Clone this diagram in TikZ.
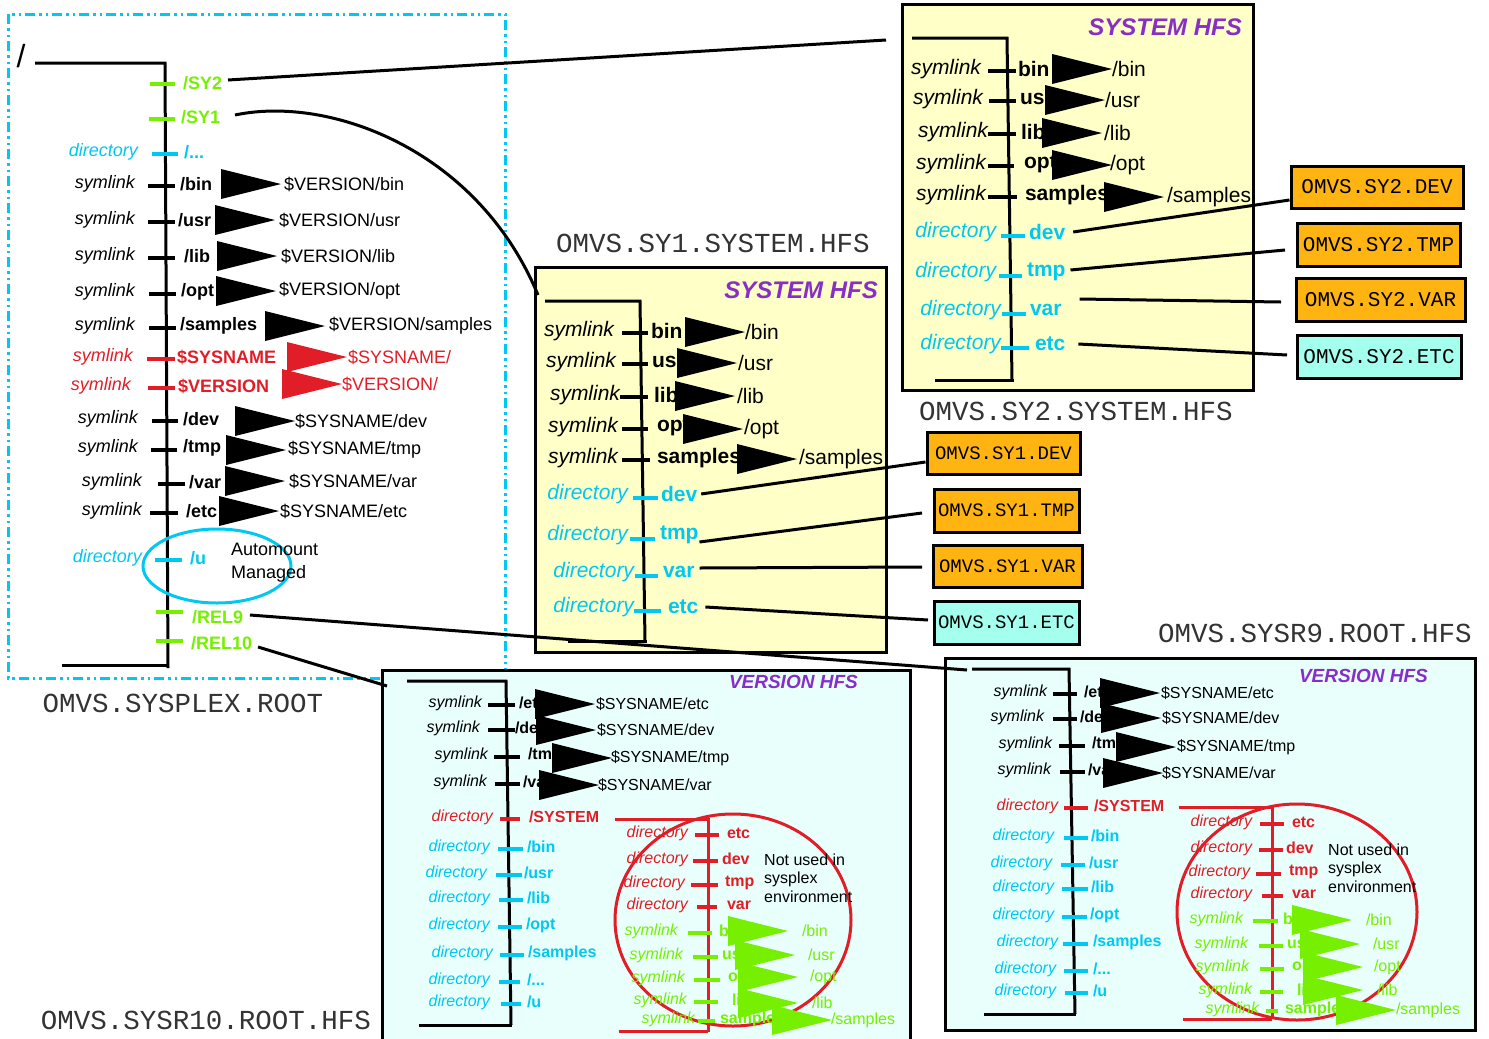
\documentclass[tikz,border=0pt]{standalone}
\usepackage{fontspec}
\setmainfont{Liberation Sans}
\newfontfamily\monof{Liberation Mono}
\definecolor{cyanc}{RGB}{0,200,240}
\definecolor{greenc}{RGB}{118,240,0}
\definecolor{redc}{RGB}{225,30,40}
\definecolor{purplec}{RGB}{135,45,200}
\definecolor{yellowf}{RGB}{255,255,200}
\definecolor{aquaf}{RGB}{232,255,252}
\definecolor{orangef}{RGB}{255,180,18}
\definecolor{tealf}{RGB}{165,255,238}
\newcommand\fsz{\fontsize{18}{20}\selectfont}
\newcount\myrowc
\newcommand\mkrow[8]{%
  \global\advance\myrowc by 1
  \node[kindlbl,#1,anchor=east] (k\the\myrowc) at (#3,#6-2) {#2};
  \draw[tick,#1] (#4,#6) -- (#5,#6);
  \node[namelbl,#1,anchor=west] (n\the\myrowc) at (#7,#6-2) {#8};
}
\newcommand\mklnk[5]{%
  \global\advance\myrowc by 1
  \fill[#1] (#2,#3-15) -- (#2+60,#3) -- (#2,#3+15) -- cycle;
  \node[tgtlbl,#1,anchor=west] (t\the\myrowc) at (#4,#3) {#5};
}
\newcommand\mkdirrow[7]{%
  \node[kindlbl,cCy,anchor=east] (k#1) at (#2,#3-4) {directory};
  \draw[tick,cCy] (#4,#3) -- (#5,#3);
  \node[namelbl,cCy,anchor=west] (#1) at (#6,#3-4) {#7};
}
\begin{document}
\begin{tikzpicture}[x=1pt,y=-1pt,
  cBk/.style={color=black}, cCy/.style={color=cyanc},
  cRd/.style={color=redc}, cGr/.style={color=greenc},
  kindlbl/.style={inner sep=0pt,outer sep=0pt,font=\itshape\fsz},
  namelbl/.style={inner sep=0pt,outer sep=0pt,font=\bfseries\fsz},
  tgtlbl/.style={inner sep=0pt,outer sep=0pt,font=\fsz},
  tick/.style={line width=3.2pt},
  tree/.style={line width=3pt},
  conn/.style={line width=3pt,black},
  mono/.style={inner sep=0pt,font=\monof\fontsize{27.5}{30}\selectfont,text=black!80},
  dsbox/.style={draw=black,line width=3pt,inner sep=0pt,font=\monof\fontsize{19}{21}\selectfont},
  dsbox2/.style={dsbox,font=\monof\fontsize{21}{23}\selectfont},
  hfs/.style={inner sep=0pt,anchor=east,text=purplec,font=\bfseries\itshape\fontsize{24}{26}\selectfont},
  vhfs/.style={hfs,font=\bfseries\itshape\fontsize{19}{21}\selectfont},
  bigbox/.style={draw=black,line width=3pt}
]
\useasboundingbox (0,0) rectangle (1489,1039);
\fill[white] (0,0) rectangle (1489,1039);

% ---------- frames ----------
\draw[cyanc,line width=3pt,dash pattern=on 10pt off 4pt on 2.5pt off 4pt on 2.5pt off 4pt] (8,14) rectangle (505,678);
\draw[bigbox,fill=yellowf] (902,4) rectangle (1253,390);
\draw[bigbox,fill=yellowf] (535,267) rectangle (886,652);
\draw[bigbox,fill=aquaf] (382,670) rectangle (910,1050);
\draw[bigbox,fill=aquaf] (945,658) rectangle (1475,1030);

% ---------- titles ----------
\node[mono] (tSysplex) at (183,703) {OMVS.SYSPLEX.ROOT};
\node[mono] (tSy1) at (713,243) {OMVS.SY1.SYSTEM.HFS};
\node[mono] (tSy2) at (1076,411) {OMVS.SY2.SYSTEM.HFS};
\node[mono] (tR9) at (1315,633) {OMVS.SYSR9.ROOT.HFS};
\node[mono] (tR10) at (206,1020) {OMVS.SYSR10.ROOT.HFS};
\node[hfs] (h2) at (1242,27) {SYSTEM HFS};
\node[hfs] (h1) at (878,290) {SYSTEM HFS};
\node[vhfs] (h10) at (858,682) {VERSION HFS};
\node[vhfs] (h9) at (1428,676) {VERSION HFS};

% ---------- data set boxes ----------
\node[dsbox,fill=orangef,minimum width=153,minimum height=42] (b1dev) at (1003.5,453) {OMVS.SY1.DEV};
\node[dsbox,fill=orangef,minimum width=145,minimum height=43] (b1tmp) at (1006.5,510.5) {OMVS.SY1.TMP};
\node[dsbox,fill=orangef,minimum width=149,minimum height=42] (b1var) at (1007.5,566) {OMVS.SY1.VAR};
\node[dsbox,fill=tealf,minimum width=145,minimum height=43] (b1etc) at (1006.5,622.5) {OMVS.SY1.ETC};
\node[dsbox2,fill=orangef,minimum width=172,minimum height=42] (b2dev) at (1377,187) {OMVS.SY2.DEV};
\node[dsbox2,fill=orangef,minimum width=163,minimum height=43] (b2tmp) at (1378.5,244.5) {OMVS.SY2.TMP};
\node[dsbox2,fill=orangef,minimum width=169,minimum height=43] (b2var) at (1380.5,299.5) {OMVS.SY2.VAR};
\node[dsbox2,fill=tealf,minimum width=164,minimum height=43] (b2etc) at (1379,356.5) {OMVS.SY2.ETC};

% ---------- sysplex root tree ----------
\renewcommand\fsz{\fontsize{18}{20}\selectfont}
\node[inner sep=0pt,font=\fontsize{32}{34}\selectfont] (root) at (21,56) {/};
\draw[tree] (35,63) -- (165,63) -- (168,668);
\draw[tree] (62,665) -- (168,665);
\draw[tick,cGr] (150,84) -- (175,84);
\node[namelbl,cGr,anchor=west] (nSY2) at (183,83) {/SY2};
\draw[tick,cGr] (149,119) -- (175,119);
\node[namelbl,cGr,anchor=west] (nSY1) at (181,117) {/SY1};
\mkrow{cCy}{directory}{138}{152}{178}{154}{184}{/...}
\mkrow{cBk}{symlink}{135}{148}{175}{186}{180}{/bin}
\mkrow{cBk}{symlink}{135}{148}{175}{222}{178}{/usr}
\mkrow{cBk}{symlink}{135}{148}{175}{258}{184}{/lib}
\mkrow{cBk}{symlink}{135}{149}{176}{294}{181}{/opt}
\mkrow{cBk}{symlink}{135}{149}{176}{328}{180}{/samples}
\mkrow{cRd}{symlink}{133}{147}{175}{359}{177}{\$SYSNAME}
\mkrow{cRd}{symlink}{131}{148}{175}{388}{178}{\$VERSION}
\mkrow{cBk}{symlink}{138}{152}{178}{421}{183}{/dev}
\mkrow{cBk}{symlink}{138}{151}{177}{450}{183}{/tmp}
\mkrow{cBk}{symlink}{142}{158}{185}{484}{189}{/var}
\mkrow{cBk}{symlink}{142}{150}{178}{513}{186}{/etc}
\mkrow{cCy}{directory}{142}{155}{182}{560}{190}{/u}
\mklnk{cBk}{221}{184}{284}{\$VERSION/bin}
\mklnk{cBk}{215}{220}{279}{\$VERSION/usr}
\mklnk{cBk}{217}{256}{281}{\$VERSION/lib}
\mklnk{cBk}{216}{291}{279}{\$VERSION/opt}
\mklnk{cBk}{265}{326}{329}{\$VERSION/samples}
\mklnk{cRd}{287}{357}{348}{\$SYSNAME/}
\mklnk{cRd}{282}{384}{342}{\$VERSION/}
\mklnk{cBk}{235}{421}{295}{\$SYSNAME/dev}
\mklnk{cBk}{226}{450}{288}{\$SYSNAME/tmp}
\mklnk{cBk}{225}{481}{289}{\$SYSNAME/var}
\mklnk{cBk}{219}{511}{280}{\$SYSNAME/etc}
\draw[cyanc,line width=3pt] (217,566) ellipse [x radius=74pt,y radius=37pt];
\node[inner sep=0pt,anchor=west,align=left,font=\fontsize{18}{23}\selectfont] (auto) at (231,562.5) {Automount\\Managed};
\draw[tick,cGr] (156,612) -- (183,612);
\node[namelbl,cGr,anchor=west] (nREL9) at (192,617) {/REL9};
\draw[tick,cGr] (156,641) -- (183,641);
\node[namelbl,cGr,anchor=west] (nREL10) at (191,643) {/REL10};

% ---------- SY1 system HFS ----------
\renewcommand\fsz{\fontsize{21}{23}\selectfont}
\draw[tree] (545,301) -- (640,301) -- (645,642);
\draw[tree] (568,641) -- (647,641);
\mkrow{cBk}{symlink}{614}{622}{648}{333}{651}{bin}
\mkrow{cBk}{symlink}{616}{622}{648}{364}{652}{usr}
\mkrow{cBk}{symlink}{620}{620}{648}{397}{654}{lib}
\mkrow{cBk}{symlink}{618}{622}{648}{429}{657}{opt}
\mkrow{cBk}{symlink}{618}{622}{650}{460}{657}{samples}
\mklnk{cBk}{685}{332}{745}{/bin}
\mklnk{cBk}{677}{363}{738}{/usr}
\mklnk{cBk}{675}{396}{737}{/lib}
\mklnk{cBk}{683}{429}{744}{/opt}
\mklnk{cBk}{737}{459}{799}{/samples}
\mkdirrow{d1dev}{628}{498}{633}{658}{661}{dev}
\mkdirrow{d1tmp}{628}{539}{630}{655}{660}{tmp}
\mkdirrow{d1var}{634}{576}{635}{658}{663}{var}
\mkdirrow{d1etc}{634}{611}{634}{661}{668}{etc}

% ---------- SY2 system HFS ----------
\draw[tree] (912,38) -- (1007,38) -- (1012,380);
\draw[tree] (935,380) -- (1014,380);
\mkrow{cBk}{symlink}{981}{988}{1016}{71}{1018}{bin}
\mkrow{cBk}{symlink}{983}{989}{1016}{101}{1020}{usr}
\mkrow{cBk}{symlink}{988}{988}{1016}{134}{1021}{lib}
\mkrow{cBk}{symlink}{986}{988}{1014}{166}{1024}{opt}
\mkrow{cBk}{symlink}{986}{988}{1017}{197}{1025}{samples}
\mklnk{cBk}{1052}{69}{1112}{/bin}
\mklnk{cBk}{1045}{100}{1105}{/usr}
\mklnk{cBk}{1042}{133}{1104}{/lib}
\mklnk{cBk}{1052}{165}{1110}{/opt}
\mklnk{cBk}{1104}{197}{1167}{/samples}
\mkdirrow{d2dev}{996}{236}{1001}{1025}{1029}{dev}
\mkdirrow{d2tmp}{996}{276}{999}{1022}{1027}{tmp}
\mkdirrow{d2var}{1001}{314}{1002}{1026}{1030}{var}
\mkdirrow{d2etc}{1001}{348}{1001}{1029}{1035}{etc}

% ---------- SYSR10 version HFS ----------
\renewcommand\fsz{\fontsize{16}{18}\selectfont}
\draw[redc,line width=3pt] (733,920) ellipse [x radius=118pt,y radius=106pt];
\draw[tree] (407,681) -- (506,681) -- (511,1025);
\draw[tree] (419,1025) -- (512,1025);
\mkrow{cBk}{symlink}{482}{488}{515}{705}{519}{/etc}
\mkrow{cBk}{symlink}{480}{488}{515}{730}{515}{/dev}
\mkrow{cBk}{symlink}{488}{494}{520}{757}{528}{/tmp}
\mkrow{cBk}{symlink}{487}{495}{520}{784}{523}{/var}
\mklnk{cBk}{535}{704}{596}{\$SYSNAME/etc}
\mklnk{cBk}{536}{730}{597}{\$SYSNAME/dev}
\mklnk{cBk}{552}{758}{611}{\$SYSNAME/tmp}
\mklnk{cBk}{539}{785}{598}{\$SYSNAME/var}
\mkrow{cRd}{directory}{493}{500}{520}{819}{529}{/SYSTEM}
\mkrow{cCy}{directory}{490}{498}{523}{849}{527}{/bin}
\mkrow{cCy}{directory}{487}{496}{522}{875}{524}{/usr}
\mkrow{cCy}{directory}{490}{499}{523}{900}{527}{/lib}
\mkrow{cCy}{directory}{490}{498}{522}{927}{526}{/opt}
\mkrow{cCy}{directory}{493}{500}{524}{955}{528}{/samples}
\mkrow{cCy}{directory}{490}{499}{520}{982}{527}{/...}
\mkrow{cCy}{directory}{490}{501}{521}{1004}{527}{/u}
\draw[tree,redc] (615,819) -- (708,819) -- (708,1032);
\draw[tree,redc] (619,1031) -- (708,1031);
\mkrow{cRd}{directory}{688}{695}{719}{835}{727}{etc}
\mkrow{cRd}{directory}{688}{693}{718}{861}{722}{dev}
\mkrow{cRd}{directory}{685}{691}{718}{885}{725}{tmp}
\mkrow{cRd}{directory}{688}{697}{717}{907}{727}{var}
\mkrow{cGr}{symlink}{678}{688}{712}{933}{719}{bin}
\mkrow{cGr}{symlink}{683}{693}{718}{957}{722}{usr}
\mkrow{cGr}{symlink}{685}{694}{720}{980}{728}{opt}
\mkrow{cGr}{symlink}{687}{694}{718}{1002}{732}{lib}
\mkrow{cGr}{symlink}{695}{698}{715}{1021}{720}{samples}
\mklnk{cGr}{728}{931}{802}{/bin}
\mklnk{cGr}{735}{955}{808}{/usr}
\mklnk{cGr}{738}{977}{810}{/opt}
\mklnk{cGr}{738}{1003}{812}{/lib}
\mklnk{cGr}{772}{1020}{831}{/samples}
\node[inner sep=0pt,anchor=west,align=left,font=\fontsize{16}{18.5}\selectfont] (nu10) at (764,878) {Not used in\\sysplex\\environment};

% ---------- SYSR9 version HFS ----------
\draw[redc,line width=3pt] (1297,912) ellipse [x radius=120pt,y radius=108pt];
\draw[tree] (972,669) -- (1069,669) -- (1075,1014);
\draw[tree] (984,1014) -- (1076,1014);
\mkrow{cBk}{symlink}{1047}{1053}{1077}{694}{1084}{/etc}
\mkrow{cBk}{symlink}{1044}{1053}{1077}{719}{1080}{/dev}
\mkrow{cBk}{symlink}{1052}{1059}{1085}{746}{1092}{/tmp}
\mkrow{cBk}{symlink}{1051}{1060}{1085}{772}{1088}{/var}
\mklnk{cBk}{1100}{693}{1161}{\$SYSNAME/etc}
\mklnk{cBk}{1101}{718}{1162}{\$SYSNAME/dev}
\mklnk{cBk}{1116}{747}{1177}{\$SYSNAME/tmp}
\mklnk{cBk}{1103}{773}{1162}{\$SYSNAME/var}
\mkrow{cRd}{directory}{1058}{1064}{1088}{808}{1094}{/SYSTEM}
\mkrow{cCy}{directory}{1054}{1064}{1088}{838}{1091}{/bin}
\mkrow{cCy}{directory}{1052}{1061}{1085}{865}{1089}{/usr}
\mkrow{cCy}{directory}{1054}{1062}{1088}{889}{1091}{/lib}
\mkrow{cCy}{directory}{1054}{1062}{1087}{917}{1090}{/opt}
\mkrow{cCy}{directory}{1058}{1063}{1088}{944}{1093}{/samples}
\mkrow{cCy}{directory}{1056}{1064}{1088}{971}{1093}{/...}
\mkrow{cCy}{directory}{1056}{1065}{1088}{993}{1093}{/u}
\draw[tree,redc] (1179,807) -- (1272,807) -- (1272,1019);
\draw[tree,redc] (1183,1019) -- (1272,1019);
\mkrow{cRd}{directory}{1252}{1260}{1284}{824}{1292}{etc}
\mkrow{cRd}{directory}{1252}{1259}{1283}{850}{1286}{dev}
\mkrow{cRd}{directory}{1250}{1256}{1281}{874}{1289}{tmp}
\mkrow{cRd}{directory}{1252}{1262}{1283}{896}{1292}{var}
\mkrow{cGr}{symlink}{1243}{1253}{1278}{921}{1283}{bin}
\mkrow{cGr}{symlink}{1248}{1259}{1283}{946}{1287}{usr}
\mkrow{cGr}{symlink}{1249}{1260}{1284}{969}{1292}{opt}
\mkrow{cGr}{symlink}{1252}{1260}{1283}{992}{1297}{lib}
\mkrow{cGr}{symlink}{1259}{1266}{1278}{1011}{1285}{samples}
\mklnk{cGr}{1292}{920}{1366}{/bin}
\mklnk{cGr}{1300}{944}{1373}{/usr}
\mklnk{cGr}{1303}{967}{1374}{/opt}
\mklnk{cGr}{1303}{990}{1377}{/lib}
\mklnk{cGr}{1336}{1010}{1396}{/samples}
\node[inner sep=0pt,anchor=west,align=left,font=\fontsize{16}{18.5}\selectfont] (nu9) at (1328,868) {Not used in\\sysplex\\environment};

% ---------- connectors ----------
\coordinate (eSY2) at (886,40);
\coordinate (eSY1) at (538,295);
\coordinate (eR9) at (967,670);
\coordinate (eR10) at (387,686);
\draw[conn] ([xshift=6pt,yshift=3pt]nSY2.east) -- (eSY2);
\draw[conn] ([xshift=15pt,yshift=2pt]nSY1.east) .. controls (330,95) and (478,150) .. (eSY1);
\draw[conn] ([xshift=7pt,yshift=2pt]nREL9.east) -- (eR9);
\draw[conn] ([xshift=6pt,yshift=-4pt]nREL10.east) -- (eR10);

\coordinate (e1tmp) at (922,513);
\coordinate (e1var) at (922,567);
\coordinate (e1etc) at (928,620);
\draw[conn] ([xshift=4pt]d1dev.east) -- ([yshift=-9pt]b1dev.west);
\draw[conn] ([xshift=1pt,yshift=-7pt]d1tmp.east) -- (e1tmp);
\draw[conn] ([xshift=5pt,yshift=4pt]d1var.east) -- (e1var);
\draw[conn] ([xshift=7pt]d1etc.east) -- (e1etc);

\coordinate (e2tmp) at (1285,250);
\coordinate (e2var) at (1281,302);
\coordinate (e2etc) at (1287,355);
\draw[conn] ([xshift=8pt]d2dev.east) -- ([yshift=-13pt]b2dev.west);
\draw[conn] ([xshift=5pt,yshift=2pt]d2tmp.east) -- (e2tmp);
\draw[conn] ([xshift=18pt,yshift=11pt]d2var.east) -- (e2var);
\draw[conn] ([xshift=13pt]d2etc.east) -- (e2etc);
\end{tikzpicture}
\end{document}
